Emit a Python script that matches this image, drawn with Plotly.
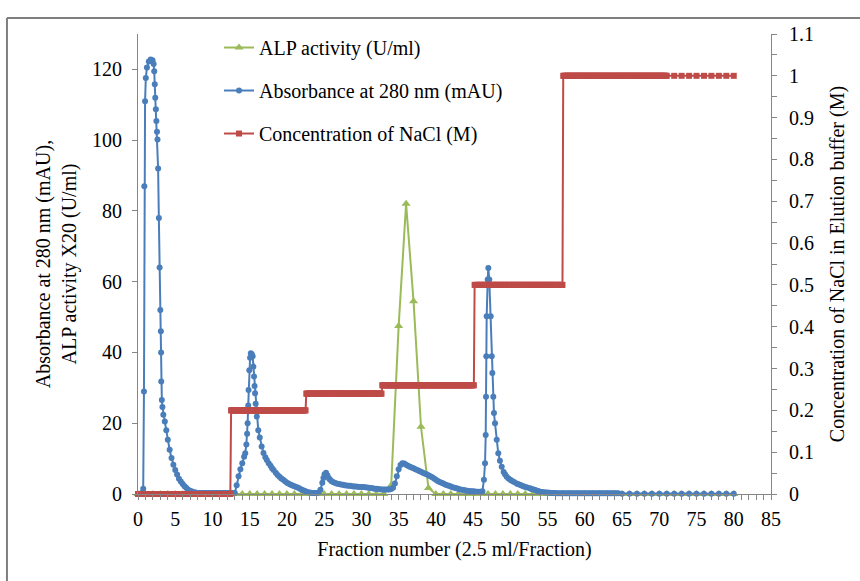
import numpy as np
import plotly.graph_objects as go

# ---------------- data ----------------
# Absorbance at 280 nm (mAU)
abs_x = [0.0, 0.25, 0.5, 0.7, 0.8, 0.85, 0.95, 1.05, 1.2, 1.45, 1.7, 1.95, 2.1, 2.18, 2.25, 2.32, 2.4, 2.47,
         2.55, 2.62, 2.7, 2.8, 2.9, 3.0, 3.07, 3.1, 3.12, 3.2, 3.28, 3.4, 3.6, 3.8, 4.0, 4.25, 4.5, 4.75, 5.0,
         5.25, 5.5, 5.75, 6.0, 6.25, 6.5, 6.75, 7.0, 7.25, 7.5, 7.75, 8.0,
         8.25, 8.5, 8.75, 9.0, 9.25, 9.5, 9.75, 10.0, 10.25, 10.5, 10.75, 11.0, 11.25, 11.5, 11.75, 12.0,
         12.25, 12.5, 12.75,
         13.0, 13.25, 13.5, 13.75, 14.0, 14.25, 14.4, 14.55, 14.65, 14.72, 14.8, 14.85, 14.95, 15.05, 15.15,
         15.28, 15.4, 15.5, 15.58, 15.65, 15.72, 15.8, 15.95, 16.15, 16.35, 16.6, 16.85, 17.1, 17.3, 17.55,
         17.8, 18.0, 18.2, 18.5, 18.75, 19.0, 19.25, 19.5, 19.75, 20.0, 20.25, 20.5, 20.75, 21.0, 21.25,
         21.5, 21.75, 22.0, 22.25, 22.5, 22.75, 23.0, 23.25, 23.5, 23.75, 24.0, 24.25, 24.5, 24.75, 24.9,
         25.05, 25.25, 25.45, 25.65, 25.8, 26.0, 26.25, 26.5, 26.75, 27.0, 27.25, 27.5, 27.75, 28.0, 28.25,
         28.5, 28.75, 29.0, 29.25, 29.5, 29.75, 30.0, 30.25, 30.5, 30.75, 31.0, 31.25, 31.5, 31.75, 32.0,
         32.25, 32.5, 32.75, 33.0, 33.25, 33.5, 33.75, 34.0, 34.25, 34.5, 34.75, 35.0, 35.25, 35.5, 35.75,
         36.0, 36.25, 36.5, 36.75, 37.0, 37.25, 37.5, 37.75, 38.0, 38.25, 38.5, 38.75, 39.0, 39.25, 39.5,
         39.75, 40.0, 40.25, 40.5, 40.75, 41.0, 41.25, 41.5, 41.75, 42.0, 42.25, 42.5, 42.75, 43.0, 43.25,
         43.5, 43.75, 44.0, 44.25, 44.5, 44.75, 45.0, 45.25, 45.5, 45.75, 46.0, 46.25, 46.45, 46.6, 46.69,
         46.73, 46.77, 46.82, 46.96, 47.04, 47.17, 47.36, 47.5, 47.58, 47.71, 47.8, 47.94, 48.17, 48.38,
         48.6, 48.84, 49.1, 49.3, 49.51, 49.75, 50.0, 50.25, 50.5, 50.85, 51.0, 51.25, 51.5, 51.75, 52.0,
         52.25, 52.64, 52.75, 53.0, 53.25, 53.5, 53.75, 54.0, 54.25, 54.5, 54.75, 55.0, 55.25, 55.5, 55.75,
         56.0, 56.25, 56.5, 56.75, 57.0, 57.25, 57.5, 57.75, 58.0, 58.25, 58.5, 58.75, 59.0, 59.25, 59.5,
         59.75, 60.0, 60.25, 60.5, 60.75, 61.0, 61.25, 61.5, 61.75, 62.0, 62.25, 62.5, 62.75, 63.0, 63.25,
         63.5, 63.75, 64.0, 64.25, 64.5,
         65, 66, 67, 68, 69, 70, 71, 72, 73, 74, 75, 76, 77, 78, 79, 80]
abs_y = [0.0, 0.0, 0.3, 1.5, 29, 87, 111, 117.6, 120.5, 122.2, 122.8, 122.6, 121.5, 119.5, 115.8, 112, 108.7, 105.4,
         102.4, 100.2, 92, 78, 64, 52, 46, 40, 31.8, 26.6, 24.6, 22.4, 20.5, 18, 15.3, 12.5, 10.2, 8.3, 6.8,
         5.5, 4.3, 3.5, 2.8, 2.2, 1.7, 1.2, 0.9, 0.7, 0.5, 0.4, 0.3,
         0.3, 0.3, 0.3, 0.3, 0.3, 0.3, 0.3, 0.3, 0.3, 0.3, 0.3, 0.3, 0.3, 0.3, 0.3, 0.3,
         0.3, 0.3, 0.3,
         0.3, 2.5, 5.0, 7.0, 8.7, 10.5, 11.5, 14, 17, 20, 25, 29.4, 35, 38.5, 39.8,
         39.5, 38.9, 36, 33.2, 30.5, 28.5, 25.5, 21.9, 18, 16, 13.4, 11.6, 10.4, 9.6, 8.7,
         8.0, 7.3, 6.8, 6.0, 5.4, 4.9, 4.4, 4.0, 3.6, 3.2, 2.9, 2.6, 2.4, 2.2, 2.0,
         1.8, 1.5, 1.2, 1.0, 0.8, 0.6, 0.45, 0.35, 0.3, 0.3, 0.3, 0.4, 1.2, 3.2, 4.5,
         5.6, 6.0, 5.2, 4.4, 4.0, 3.6, 3.3, 3.1, 2.9, 2.8, 2.7, 2.6, 2.5, 2.4, 2.35,
         2.3, 2.2, 2.15, 2.1, 2.05, 2.0, 2.0, 1.95, 1.9, 1.85, 1.8, 1.7, 1.6, 1.5, 1.45,
         1.4, 1.35, 1.3, 1.3, 1.3, 1.3, 1.3, 1.4, 1.8, 3.0, 5.0, 7.0, 8.2, 8.7, 8.6,
         8.3, 8.0, 7.7, 7.5, 7.3, 7.0, 6.8, 6.5, 6.3, 6.0, 5.8, 5.6, 5.3, 5.0, 4.7,
         4.4, 4.0, 3.7, 3.4, 3.2, 3.0, 2.7, 2.5, 2.3, 2.1, 1.9, 1.75, 1.6, 1.45, 1.3,
         1.2, 1.1, 1.0, 0.9, 0.85, 0.8, 0.75, 0.7, 0.65, 0.65, 0.65, 0.8, 4.0, 8.7, 16.7,
         27.5, 38.9, 50.2, 60.6, 63.9, 60.6, 50.2, 38.9, 34.2, 27.5, 22.9, 20.0, 15.3, 11.5,
         9.4, 7.7, 6.2, 5.5, 4.9, 4.4, 4.0, 3.7, 3.4, 3.0, 2.8, 2.6, 2.4, 2.2, 2.0,
         1.85, 1.6, 1.5, 1.35, 1.2, 1.0, 0.85, 0.65, 0.55, 0.5, 0.45, 0.4, 0.35, 0.3, 0.3,
         0.25, 0.2, 0.2, 0.2, 0.2, 0.2, 0.2, 0.2, 0.2, 0.2, 0.2, 0.2, 0.2, 0.2, 0.2,
         0.2, 0.2, 0.2, 0.2, 0.2, 0.2, 0.2, 0.2, 0.2, 0.2, 0.2, 0.2, 0.2, 0.2, 0.2,
         0.2, 0.2, 0.2, 0.2, 0.2,
         0.1, 0.1, 0.1, 0.1, 0.1, 0.1, 0.1, 0.1, 0.1, 0.1, 0.1, 0.1, 0.1, 0.1, 0.1, 0.1]

# ALP activity (U/ml, x20), one value per fraction 0..80
alp_x = list(range(0, 81))
alp_y = [0, 0, 0, 0, 0, 0, 0, 0, 0, 0,
         0, 0, 0, 0, 0, 0, 0, 0, 0, 0,
         0, 0, 0, 0, 0, 0, 0, 0, 0, 0,
         0, 0, 0, 0, 2.5, 47.5, 82, 54.5, 19, 1.7,
         0, 0, 0, 0, 0, 0, 0, 0, 0, 0,
         0, 0, 0, 0, 0, 0, 0, 0, 0, 0,
         0, 0, 0, 0, 0, 0, 0, 0, 0, 0,
         0, 0, 0, 0, 0, 0, 0, 0, 0, 0,
         0]

# NaCl step gradient (M): start/end fraction of each step and its level
nacl_step_start = [0, 12.5, 22.6, 32.8, 45.2, 57.1]
nacl_step_end = [12.4, 22.5, 32.7, 45.1, 57.0, 71.0]
nacl_levels = [0.0, 0.2, 0.24, 0.26, 0.5, 1.0]
nacl_tail_x = [72, 73, 74, 75, 76, 77, 78, 79, 80]
nacl_tail_y = [1.0, 1.0, 1.0, 1.0, 1.0, 1.0, 1.0, 1.0, 1.0]

nacl_x, nacl_y = [], []
for s, e, lv in zip(nacl_step_start, nacl_step_end, nacl_levels):
    xs = np.round(np.arange(s, e + 0.001, 0.1), 2)
    nacl_x += list(xs)
    nacl_y += [lv] * len(xs)
nacl_x += nacl_tail_x
nacl_y += nacl_tail_y

# ---------------- figure ----------------
FONT = "Liberation Serif"
GREEN = "#9BBB59"
BLUE = "#4A7EBB"
RED = "#BE4B48"
AXC = "#868686"

fig = go.Figure()
fig.add_trace(go.Scatter(
    x=alp_x, y=alp_y, name="ALP activity (U/ml)", mode="lines+markers",
    line=dict(color=GREEN, width=2), marker=dict(symbol="triangle-up", size=8, color=GREEN),
    cliponaxis=False, legendrank=1, legendgroup="a"))
fig.add_trace(go.Scatter(
    x=abs_x, y=abs_y, name="Absorbance at 280 nm (mAU)", mode="lines+markers",
    line=dict(color=BLUE, width=2), marker=dict(symbol="circle", size=6, color=BLUE),
    cliponaxis=False, legendrank=2, legendgroup="b"))
fig.add_trace(go.Scatter(
    x=nacl_x, y=nacl_y, name="Concentration of NaCl (M)", mode="lines+markers", yaxis="y2",
    line=dict(color=RED, width=2), marker=dict(symbol="square", size=6, color=RED),
    cliponaxis=False, legendrank=3, legendgroup="c"))

tickfont = dict(family=FONT, size=20, color="black")
fig.update_layout(
    width=860, height=581,
    margin=dict(l=138, r=89, t=34, b=87),
    paper_bgcolor="white", plot_bgcolor="white",
    font=dict(family=FONT, size=20, color="black"),
    showlegend=True,
    legend=dict(x=0.128, y=1.013, xanchor="left", yanchor="top",
                font=dict(family=FONT, size=20, color="black"),
                bgcolor="rgba(0,0,0,0)", tracegroupgap=14, traceorder="grouped"),
    xaxis=dict(range=[0, 85], tick0=0, dtick=5, ticks="outside", ticklen=5, tickcolor=AXC,
               showline=True, linecolor=AXC, linewidth=1, showgrid=False, zeroline=False,
               minor=dict(dtick=1, ticks="outside", ticklen=5, tickcolor=AXC, showgrid=False),
               tickfont=tickfont, ticklabelstandoff=2,
               title=dict(text="Fraction number (2.5 ml/Fraction)", font=dict(family=FONT, size=20),
                          standoff=12)),
    yaxis=dict(range=[0, 130], tick0=0, dtick=20, ticks="outside", ticklen=5, tickcolor=AXC,
               showline=True, linecolor=AXC, linewidth=1, showgrid=False, zeroline=False,
               tickfont=tickfont, ticklabelstandoff=6,
               title=dict(text="Absorbance at 280 nm (mAU),<br>ALP activity X20 (U/ml)",
                          font=dict(family=FONT, size=20), standoff=10)),
    yaxis2=dict(range=[0, 1.1], tick0=0, dtick=0.1, ticks="outside", ticklen=5, tickcolor=AXC,
                overlaying="y", side="right",
                showline=True, linecolor=AXC, linewidth=1, showgrid=False, zeroline=False,
                minor=dict(dtick=0.05, ticks="outside", ticklen=5, tickcolor=AXC, showgrid=False),
                tickfont=tickfont, ticklabelstandoff=8,
                title=dict(text="Concentration of NaCl in Elution buffer (M)",
                           font=dict(family=FONT, size=20), standoff=16)),
)

# outer chart frame (extends beyond the visible picture)
fig.add_shape(type="line", xref="paper", yref="paper", x0=-0.207, x1=-0.207, y0=1.0348, y1=-0.25,
              line=dict(color="#7f7f7f", width=2))
fig.add_shape(type="line", xref="paper", yref="paper", x0=-0.207, x1=1.2, y0=1.0348, y1=1.0348,
              line=dict(color="#7f7f7f", width=2))

fig.write_html("out.html")
